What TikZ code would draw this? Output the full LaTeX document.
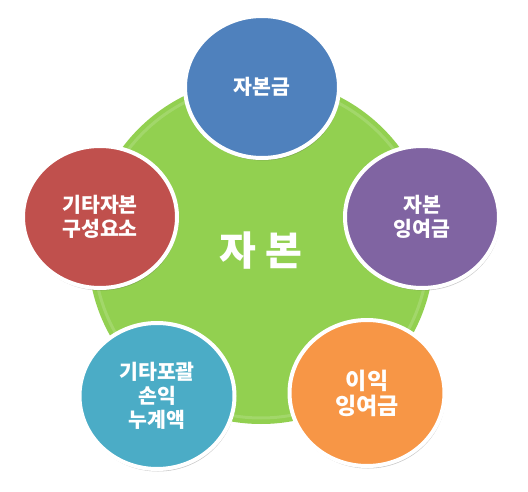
\documentclass[tikz,border=0pt]{standalone}
\usepackage{fontspec}
\newfontfamily\kr{Noto Sans CJK KR Black}
\usetikzlibrary{shapes.geometric,shadows}
\definecolor{capgreen}{HTML}{92D050}
\definecolor{capblue}{HTML}{4F81BD}
\definecolor{cappurple}{HTML}{8064A2}
\definecolor{capred}{HTML}{C0504D}
\definecolor{capcyan}{HTML}{4BACC6}
\definecolor{caporange}{HTML}{F79646}
\tikzset{fig/.style={x=1pt,y=-1pt,line join=round},
  part/.style={ellipse,draw=white,line width=4pt,minimum width=154pt,minimum height=142pt,
    inner sep=0pt,text=white,align=center,font=\kr\fontsize{20.5}{24}\selectfont,
    drop shadow={shadow xshift=1pt,shadow yshift=-2.5pt,opacity=0.3,fill=black!70}}}

\begin{document}
\begin{tikzpicture}[fig]
  \fill[white](0,0)rectangle(528,492);\useasboundingbox(0,0)rectangle(528,492);
  \node[circle,fill=capgreen,minimum size=346pt,inner sep=0pt,text=white,
    font=\kr\fontsize{40}{44}\selectfont](cap)at(261,251){자 본};
  \draw[white,opacity=0.15,line width=3pt](cap.center)circle(167pt);
  \node[part,fill=capblue](paid)at(262,87){자본금};
  \node[part,fill=cappurple](surplus)at(422,217){자본\\잉여금};
  \node[part,fill=capred](other)at(100,217){기타자본\\구성요소};
  \node[part,fill=capcyan,minimum width=155pt,minimum height=146pt](oci)at(157,396){기타포괄\\손익\\누계액};
  \node[part,fill=caporange,minimum width=155pt,minimum height=146pt,
    font=\kr\fontsize{23}{25}\selectfont](retained)at(367,393){이익\\잉여금};
\end{tikzpicture}
\end{document}
